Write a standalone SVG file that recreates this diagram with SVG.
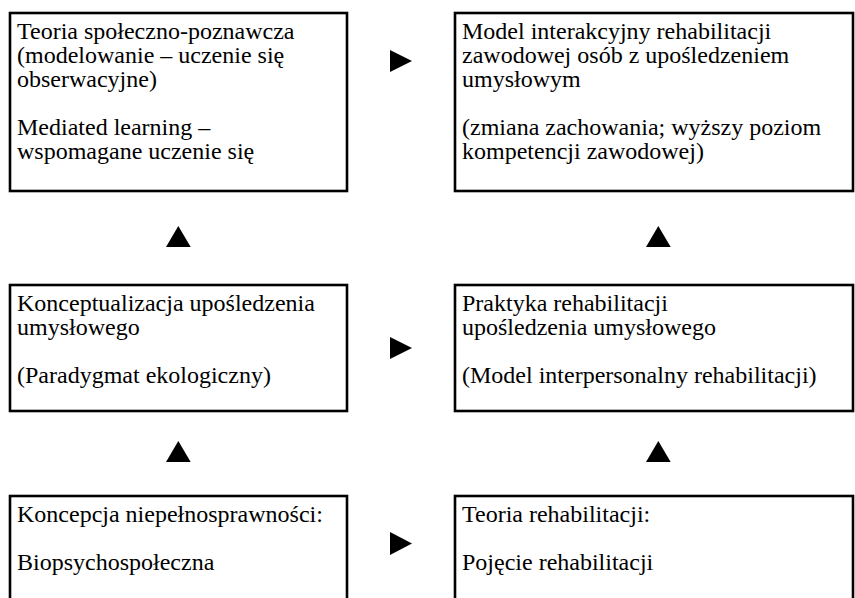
<svg xmlns="http://www.w3.org/2000/svg" width="855" height="598" viewBox="0 0 855 598">
  <style>
    .box { fill: #ffffff; stroke: #000000; stroke-width: 2.6; }
    .lbl { font-family: "Liberation Serif", "Times New Roman", serif; font-size: 24px; fill: #000000; }
    .arrow { fill: #000000; stroke: none; }
  </style>
  <rect width="855" height="598" fill="#ffffff"/>

  <!-- top row -->
  <g id="teoria-spoleczno-poznawcza">
    <rect class="box" x="10" y="13" width="337" height="178"/>
    <text class="lbl" x="17" y="39">Teoria społeczno-poznawcza</text>
    <text class="lbl" x="17" y="63">(modelowanie – uczenie się</text>
    <text class="lbl" x="17" y="87">obserwacyjne)</text>
    <text class="lbl" x="17" y="135">Mediated learning –</text>
    <text class="lbl" x="17" y="159">wspomagane uczenie się</text>
  </g>
  <g id="model-interakcyjny">
    <rect class="box" x="455" y="13" width="398" height="178"/>
    <text class="lbl" x="462" y="39">Model interakcyjny rehabilitacji</text>
    <text class="lbl" x="462" y="63">zawodowej osób z upośledzeniem</text>
    <text class="lbl" x="462" y="87">umysłowym</text>
    <text class="lbl" x="462" y="135">(zmiana zachowania; wyższy poziom</text>
    <text class="lbl" x="462" y="159">kompetencji zawodowej)</text>
  </g>

  <!-- middle row -->
  <g id="konceptualizacja">
    <rect class="box" x="10" y="285" width="337" height="126"/>
    <text class="lbl" x="17" y="311">Konceptualizacja upośledzenia</text>
    <text class="lbl" x="17" y="335">umysłowego</text>
    <text class="lbl" x="17" y="383">(Paradygmat ekologiczny)</text>
  </g>
  <g id="praktyka-rehabilitacji">
    <rect class="box" x="455" y="285" width="398" height="126"/>
    <text class="lbl" x="462" y="311">Praktyka rehabilitacji</text>
    <text class="lbl" x="462" y="335">upośledzenia umysłowego</text>
    <text class="lbl" x="462" y="383">(Model interpersonalny rehabilitacji)</text>
  </g>

  <!-- bottom row -->
  <g id="koncepcja-niepelnosprawnosci">
    <rect class="box" x="10" y="496" width="337" height="120"/>
    <text class="lbl" x="17" y="522">Koncepcja niepełnosprawności:</text>
    <text class="lbl" x="17" y="570">Biopsychospołeczna</text>
  </g>
  <g id="teoria-rehabilitacji">
    <rect class="box" x="455" y="496" width="398" height="120"/>
    <text class="lbl" x="462" y="522">Teoria rehabilitacji:</text>
    <text class="lbl" x="462" y="570">Pojęcie rehabilitacji</text>
  </g>

  <!-- connectors: solid triangular pointers between boxes -->
  <g id="connectors">
    <polygon class="arrow" points="390,50 412,61 390,72"/>
    <polygon class="arrow" points="390,337 412,348 390,359"/>
    <polygon class="arrow" points="390,532 412,543.5 390,555"/>
    <polygon class="arrow" points="166,247 178.3,226 190.7,247"/>
    <polygon class="arrow" points="646,247 658.3,226 670.7,247"/>
    <polygon class="arrow" points="166,462 178.3,441 190.7,462"/>
    <polygon class="arrow" points="646,462 658.3,441 670.7,462"/>
  </g>
</svg>
